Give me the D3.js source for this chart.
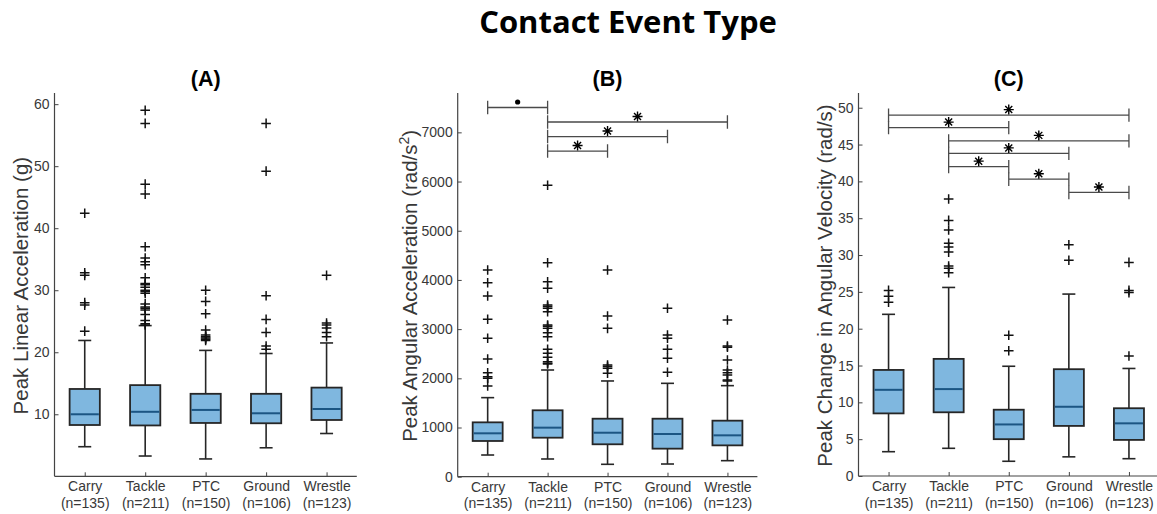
<!DOCTYPE html>
<html>
<head>
<meta charset="utf-8">
<script src="https://cdn.jsdelivr.net/npm/d3@7"></script>
<style>
  body { margin: 0; background: #fff; }
  svg { display: block; }
</style>
</head>
<body>
<svg id="fig" width="1157" height="514"></svg>
<script>
// ---------- data ----------
const categories = ["Carry", "Tackle", "PTC", "Ground", "Wrestle"];
const sampleSizes = [135, 211, 150, 106, 123];

// (A) Peak linear acceleration (g)
const linLow    = [4.77, 3.27, 2.8, 4.6, 6.9];
const linQ1     = [8.27, 8.2, 8.6, 8.55, 9.08];
const linMedian = [10.0, 10.4, 10.7, 10.16, 10.85];
const linQ3     = [14.08, 14.7, 13.3, 13.3, 14.3];
const linHigh   = [21.9, 24.3, 20.3, 19.8, 21.5];
const linOutliers = [
  [23.4, 27.6, 28.0, 32.4, 32.8, 42.4],
  [24.4, 24.6, 25.1, 26.1, 26.8, 27.1, 27.3, 27.8, 29.5, 29.8, 30.0, 30.5, 30.9, 31.1, 32.0, 34.1, 34.6, 35.2, 37.0, 45.5, 47.1, 56.9, 59.0],
  [21.9, 22.1, 22.3, 22.5, 22.8, 23.6, 26.2, 28.2, 30.0],
  [20.5, 21.0, 23.2, 25.3, 29.1, 49.2, 56.9],
  [22.5, 23.2, 23.9, 24.4, 24.7, 32.4]
];
const linTicks = [10, 20, 30, 40, 50, 60];

// (B) Peak angular acceleration (rad/s^2)
const angLow    = [441, 360, 252, 258, 326];
const angQ1     = [726, 793, 659, 570, 637];
const angMedian = [882, 997, 894, 868, 841];
const angQ3     = [1105, 1350, 1179, 1179, 1139];
const angHigh   = [1607, 2169, 1946, 1898, 1851];
const angOutliers = [
  [1843, 2000, 2033, 2114, 2392, 2813, 3200, 3673, 3944, 4202],
  [2290, 2305, 2338, 2427, 2508, 2590, 2846, 2927, 3016, 3060, 3084, 3354, 3423, 3460, 3490, 3830, 3964, 4350, 5924],
  [2102, 2203, 2240, 2271, 3016, 3267, 4202],
  [2122, 2407, 2590, 2813, 2881, 3423],
  [1946, 1966, 2068, 2114, 2169, 2372, 2630, 2657, 3186]
];
const angTicks = [0, 1000, 2000, 3000, 4000, 5000, 6000, 7000];
// significance brackets: [from, to, marker], drawn at the matching level
const angPairs  = [[0, 1, "dot"], [1, 4, "star"], [1, 3, "star"], [1, 2, "star"]];
const angLevels = [7505, 7210, 6915, 6620];

// (C) Peak change in angular velocity (rad/s)
const velLow    = [3.3, 3.76, 2.0, 2.6, 2.35];
const velQ1     = [8.5, 8.65, 5.0, 6.8, 4.9];
const velMedian = [11.7, 11.8, 7.0, 9.4, 7.15];
const velQ3     = [14.4, 15.9, 9.0, 14.5, 9.2];
const velHigh   = [21.95, 25.6, 14.9, 24.7, 14.6];
const velOutliers = [
  [23.6, 24.4, 25.2],
  [27.6, 28.2, 28.5, 30.4, 31.1, 31.6, 33.4, 34.7, 37.6],
  [17.0, 19.1],
  [29.3, 31.4],
  [16.3, 24.9, 25.2, 29.0]
];
const velTicks = [0, 5, 10, 15, 20, 25, 30, 35, 40, 45, 50];
const velPairs  = [[0, 4, "star"], [0, 2, "star"], [1, 4, "star"], [1, 3, "star"], [1, 2, "star"], [2, 3, "star"], [3, 4, "star"]];
const velLevels = [49.0, 47.3, 45.5, 43.8, 42.0, 40.3, 38.5];

// ---------- drawing ----------
const svg = d3.select("#fig");
const TEXT = "#383838";
const AXIS = "#444444";
const FONT = "'Liberation Sans', Arial, Helvetica, sans-serif";

svg.append("text")
  .attr("x", 628).attr("y", 33)
  .attr("text-anchor", "middle")
  .style("font-family", "'Open Sans', 'Noto Sans', sans-serif")
  .style("font-weight", 700)
  .style("font-size", "31px")
  .attr("fill", "#000")
  .text("Contact Event Type");

const plusPath = "M-4.8,0H4.8M0,-4.8V4.8";
const starPath = "M-5,0H5M0,-5V5M-3.5,-3.5L3.5,3.5M-3.5,3.5L3.5,-3.5";

function drawPanel(p) {
  const g = svg.append("g");
  const x = d3.scalePoint().domain(categories).range([p.x0, p.x1]).padding(0.5);
  const y = d3.scaleLinear().domain(p.domain).range([p.y1, p.y0]);
  const step = x.step();
  const boxW = step * 0.5;
  const capW = 13;

  // y axis
  const ya = g.append("g").attr("transform", `translate(${p.x0},0)`)
    .call(d3.axisLeft(y).tickValues(p.ticks).tickSizeInner(-4).tickSizeOuter(0).tickPadding(5).tickFormat(d3.format("d")));
  ya.select(".domain").attr("stroke", AXIS).attr("stroke-width", 1.2)
    .attr("d", `M0,${p.y0}V${p.y1}`);
  ya.selectAll(".tick line").attr("stroke", AXIS).attr("stroke-width", 1);
  ya.selectAll(".tick text").attr("fill", TEXT).style("font-family", FONT).style("font-size", "14px");

  // x axis
  const xa = g.append("g").attr("transform", `translate(0,${p.y1})`)
    .call(d3.axisBottom(x).tickSizeInner(-4).tickSizeOuter(0).tickFormat(""));
  xa.select(".domain").attr("stroke", AXIS).attr("stroke-width", 1.2)
    .attr("d", `M${p.x0},0H${p.x1}`);
  xa.selectAll(".tick line").attr("stroke", AXIS).attr("stroke-width", 1);
  xa.selectAll(".tick text").remove();
  xa.selectAll(".tick").each(function(d, i) {
    const t = d3.select(this).append("text")
      .attr("text-anchor", "middle").attr("fill", TEXT)
      .style("font-family", FONT).style("font-size", "14px");
    t.append("tspan").attr("x", 0).attr("y", 15).text(d);
    t.append("tspan").attr("x", 0).attr("y", 31.5).text(`(n=${sampleSizes[i]})`);
  });

  // panel title
  g.append("text")
    .attr("x", (p.x0 + p.x1) / 2).attr("y", 86)
    .attr("text-anchor", "middle")
    .style("font-family", FONT).style("font-weight", 700).style("font-size", "21.5px")
    .attr("fill", "#000").text(p.title);

  // y label
  const yl = g.append("text")
    .attr("transform", `translate(${p.labelX},${(p.y0 + p.y1) / 2 + 1}) rotate(-90)`)
    .attr("text-anchor", "middle")
    .style("font-family", FONT).style("font-size", "20.5px")
    .attr("fill", TEXT);
  p.label(yl);

  // boxes
  categories.forEach((c, i) => {
    const cx = x(c);
    const bg = g.append("g");
    // whiskers
    bg.append("line").attr("x1", cx).attr("x2", cx).attr("y1", y(p.q3[i])).attr("y2", y(p.high[i]))
      .attr("stroke", "#262626").attr("stroke-width", 1.6);
    bg.append("line").attr("x1", cx).attr("x2", cx).attr("y1", y(p.q1[i])).attr("y2", y(p.low[i]))
      .attr("stroke", "#262626").attr("stroke-width", 1.6);
    bg.append("line").attr("x1", cx - capW / 2).attr("x2", cx + capW / 2).attr("y1", y(p.high[i])).attr("y2", y(p.high[i]))
      .attr("stroke", "#262626").attr("stroke-width", 1.6);
    bg.append("line").attr("x1", cx - capW / 2).attr("x2", cx + capW / 2).attr("y1", y(p.low[i])).attr("y2", y(p.low[i]))
      .attr("stroke", "#262626").attr("stroke-width", 1.6);
    // box
    bg.append("rect")
      .attr("x", cx - boxW / 2).attr("width", boxW)
      .attr("y", y(p.q3[i])).attr("height", y(p.q1[i]) - y(p.q3[i]))
      .attr("fill", "#7fb7df").attr("stroke", "#262626").attr("stroke-width", 1.8);
    // median
    bg.append("line").attr("x1", cx - boxW / 2 + 1).attr("x2", cx + boxW / 2 - 1)
      .attr("y1", y(p.median[i])).attr("y2", y(p.median[i]))
      .attr("stroke", "#1b5583").attr("stroke-width", 2);
    // outliers
    bg.selectAll("path.out").data(p.outliers[i]).join("path")
      .attr("class", "out")
      .attr("transform", v => `translate(${cx},${y(v)})`)
      .attr("d", plusPath)
      .attr("stroke", "#111").attr("stroke-width", 1.5).attr("fill", "none");
  });

  // significance brackets
  if (p.pairs) {
    p.pairs.forEach((pr, k) => {
      const xa0 = x(categories[pr[0]]), xa1 = x(categories[pr[1]]);
      const yy = y(p.levels[k]);
      const sg = g.append("g").attr("stroke", "#4a4a4a").attr("stroke-width", 1.3).attr("fill", "none");
      sg.append("path").attr("d", `M${xa0},${yy}H${xa1}M${xa0},${yy - 6.7}V${yy + 6.7}M${xa1},${yy - 6.7}V${yy + 6.7}`);
      const mx = (xa0 + xa1) / 2, my = yy - 5.5;
      if (pr[2] === "dot") {
        g.append("circle").attr("cx", mx).attr("cy", my).attr("r", 2.6).attr("fill", "#000");
      } else {
        g.append("path").attr("transform", `translate(${mx},${my})`).attr("d", starPath)
          .attr("stroke", "#000").attr("stroke-width", 1.4).attr("fill", "none");
      }
    });
  }
}

drawPanel({
  title: "(A)", x0: 54.5, x1: 356.8, y0: 93, y1: 476.3, domain: [0, 61.8], ticks: linTicks,
  low: linLow, q1: linQ1, median: linMedian, q3: linQ3, high: linHigh, outliers: linOutliers,
  labelX: 28,
  label: t => t.text("Peak Linear Acceleration (g)")
});

drawPanel({
  title: "(B)", x0: 457.7, x1: 757.4, y0: 93, y1: 476.7, domain: [0, 7800], ticks: angTicks,
  low: angLow, q1: angQ1, median: angMedian, q3: angQ3, high: angHigh, outliers: angOutliers,
  pairs: angPairs, levels: angLevels,
  labelX: 416.5,
  label: t => {
    t.append("tspan").text("Peak Angular Acceleration (rad/s");
    t.append("tspan").attr("dy", -8).style("font-size", "14px").text("2");
    t.append("tspan").attr("dy", 8).text(")");
  }
});

drawPanel({
  title: "(C)", x0: 858.5, x1: 1159, y0: 93, y1: 476, domain: [0, 52], ticks: velTicks,
  low: velLow, q1: velQ1, median: velMedian, q3: velQ3, high: velHigh, outliers: velOutliers,
  pairs: velPairs, levels: velLevels,
  labelX: 831.5,
  label: t => t.text("Peak Change in Angular Velocity (rad/s)")
});
</script>
</body>
</html>
